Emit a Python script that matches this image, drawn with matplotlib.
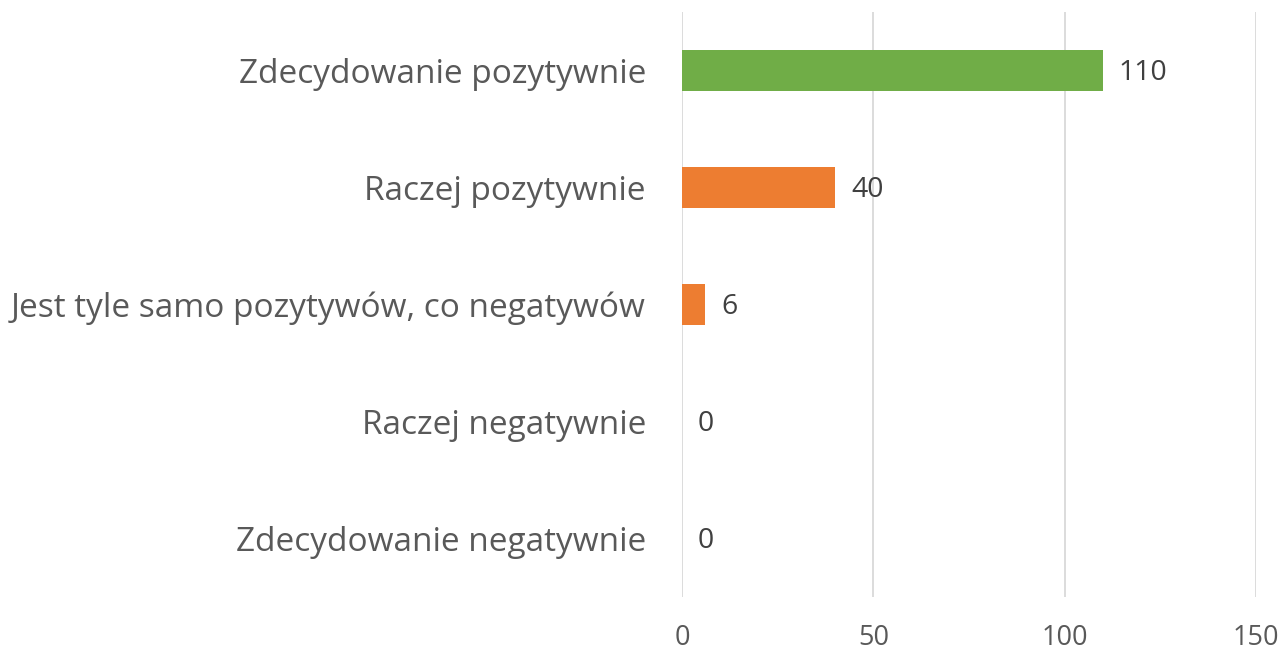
import matplotlib.pyplot as plt

categories = ['Zdecydowanie pozytywnie', 'Raczej pozytywnie',
              'Jest tyle samo pozytywów, co negatywów', 'Raczej negatywnie',
              'Zdecydowanie negatywnie']
values = [110, 40, 6, 0, 0]
colors = ['#70AD47', '#ED7D31', '#ED7D31', '#ED7D31', '#ED7D31']
xticks = [0, 50, 100, 150]

plt.rcParams['font.family'] = ['Open Sans', 'DejaVu Sans']

fig = plt.figure(figsize=(12.83, 6.5), dpi=100)
ax = fig.add_axes([682 / 1283, 1 - 597 / 650, (1256 - 682) / 1283, (597 - 12) / 650])

ypos = list(range(len(categories)))
ax.barh(ypos, values, height=0.35, color=colors, zorder=3)

for y, v in zip(ypos, values):
    ax.annotate(str(v), (v, y), xytext=(11.5, -1.5), textcoords='offset points',
                ha='left', va='center', fontsize=20.5, color='#404040')

ax.set_xlim(0, 150)
ax.set_ylim(len(categories) - 0.5, -0.5)
ax.set_xticks(xticks)
ax.set_xticklabels([str(t) for t in xticks], fontsize=19.5, color='#595959')
ax.set_yticks(ypos)
ax.set_yticklabels(categories, fontsize=24, color='#595959')
ax.tick_params(axis='x', length=0, pad=19.5)
ax.tick_params(axis='y', length=0, pad=26)
ax.grid(axis='x', color='#D9D9D9', linewidth=1.3, zorder=0)
for s in ax.spines.values():
    s.set_visible(False)

fig.savefig('out.png', dpi=100)
